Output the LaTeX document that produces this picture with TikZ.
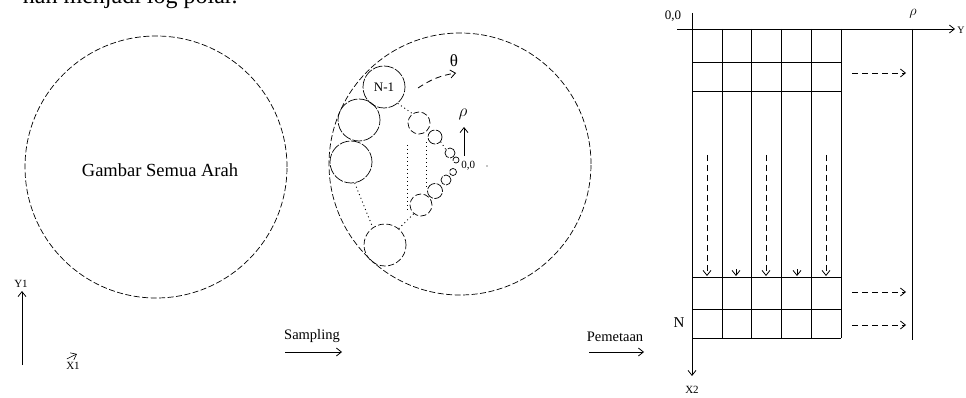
\documentclass[tikz,border=0pt]{standalone}
\usepackage{fontspec}
\setmainfont{Liberation Serif}
\usetikzlibrary{arrows.meta}
\begin{document}
\begin{tikzpicture}[x=1pt,y=-1pt,line width=0.8pt,
  ar/.style={-{Straight Barb[length=5pt,width=8pt]}},
  dcirc/.style={circle,draw,dash pattern=on 6pt off 2.5pt,line width=0.7pt,inner sep=0pt},
  scirc/.style={circle,draw,dash pattern=on 10pt off 1.5pt,line width=0.7pt,inner sep=0pt},
  dot/.style={dash pattern=on 1pt off 3pt,line width=0.9pt},
  dsh/.style={dash pattern=on 6pt off 4pt,line width=0.8pt},
  lbl/.style={inner sep=0pt,font=\fontsize{11}{12}\selectfont},
  mid/.style={inner sep=0pt,font=\fontsize{14.5}{16}\selectfont}]
\useasboundingbox (0,0) rectangle (966,398);
% top text (cut off by the page edge, as in the reference)
\node[anchor=base east,inner sep=0pt,font=\fontsize{24}{28}\selectfont] (top) at (238,4) {nah menjadi log polar.};
% left circle
\node[dcirc,minimum size=262pt] (c1) at (156,167) {};
\node[inner sep=0pt,font=\fontsize{18.5}{20}\selectfont] (c1t) at (160,170) {Gambar Semua Arah};
% Y1 / X1
\node[lbl] (y1) at (21,284) {Y1};
\coordinate (y1s) at (22,365);
\draw[ar] (y1s) -- (22,291);
\node[lbl] (x1) at (73,366) {X1};
\draw[ar,line width=0.6pt] (x1.north west) ++(1,-3) coordinate (x1a) -- ++(10,-5) coordinate (x1b);
% Sampling
\node[mid] (samp) at (312,336) {Sampling};
\coordinate (sa) at (285,352);
\coordinate (sb) at (342,352);
\draw[ar] (sa) -- (sb);
% Pemetaan
\node[mid] (pem) at (615,337) {Pemetaan};
\coordinate (pa) at (589,352);
\coordinate (pb) at (644,352);
\draw[ar] (pa) -- (pb);
% middle circle
\node[dcirc,minimum size=262pt] (c2) at (460,164) {};
\node[scirc,minimum size=42pt,font=\fontsize{13}{14}\selectfont] (n1) at (384,87) {N-1};
\node[scirc,minimum size=42pt] (s2) at (359,120) {};
\node[scirc,minimum size=42pt] (s3) at (351,162) {};
\node[dcirc,minimum size=42pt] (s4) at (385,245) {};
\node[dcirc,minimum size=22pt] (u1) at (419,123) {};
\node[scirc,minimum size=14pt] (u2) at (435,137) {};
\node[scirc,minimum size=10pt] (u3) at (450,153) {};
\node[scirc,minimum size=6pt] (u4) at (456,160) {};
\node[dcirc,minimum size=22pt] (l1) at (421,205) {};
\node[scirc,minimum size=15pt] (l2) at (435,191) {};
\node[scirc,minimum size=10pt] (l3) at (446,180) {};
\node[scirc,minimum size=7pt] (l4) at (453,172) {};
\coordinate (o) at (460,165);
\node[anchor=west,inner sep=0pt,font=\fontsize{11}{12}\selectfont] (ot) at (461,166) {0,0};
\node[circle,fill,inner sep=0.5pt] (od) at (487,166) {};
% rho and theta
\coordinate (rs) at (464,156);
\node[inner sep=0pt,font=\fontsize{19}{20}\selectfont] (rho) at (463,114) {$\rho$};
\draw[ar] (rs) -- (464,127);
\coordinate (ts) at (418,88);
\coordinate (te) at (456,73);
\draw[ar,dsh] (ts) to[bend left=12] (te);
\node[inner sep=0pt,font=\fontsize{17}{18}\selectfont] (th) at (454,61) {θ};
% dotted connections
\draw[dot] (n1.-50) -- (u1.125);
\draw[dot] (u2.-40) -- (u3.140);
\draw[dot] (s3.-80) -- (s4.125);
\draw[dot] (s4.50) -- (l1.-130);
\coordinate (v1a) at (407,145); \coordinate (v1b) at (407,212);
\coordinate (v2a) at (426,142); \coordinate (v2b) at (426,190);
\draw[dot] (v1a) -- (v1b);
\draw[dot] (v2a) -- (v2b);
% grid
\foreach \yy in {29,62,91,277,309,338} \draw (692,\yy) -- (841,\yy);
\foreach \xx in {722,751,781,811,841} \draw (\xx,29) -- (\xx,338);
\coordinate (ha) at (677,29); \coordinate (hb) at (955,29);
\draw[ar] (ha) -- (hb);
\coordinate (va) at (692,13); \coordinate (vb) at (692,376);
\draw[ar] (va) -- (vb);
\node[anchor=west,inner sep=0pt,font=\fontsize{10}{12}\selectfont] (yl) at (957,30) {Y};
\node[anchor=north,inner sep=0pt,font=\fontsize{11}{12}\selectfont] (x2) at (692,386) {X2};
\node[inner sep=0pt,font=\fontsize{13}{14}\selectfont] (g00) at (673,16) {0,0};
\node[inner sep=0pt,font=\fontsize{15}{16}\selectfont] (gN) at (679,323) {N};
\coordinate (ra) at (912,29); \coordinate (rb) at (912,340);
\draw (ra) -- (rb);
\node[inner sep=0pt,font=\fontsize{15}{16}\selectfont] (rho2) at (913,14) {$\rho$};
% dashed arrows right
\foreach \yy in {73,292,325} \draw[ar,dsh] (852,\yy) -- (906,\yy);
% dashed arrows down
\foreach \xx in {707,766,826} \draw[ar,dsh] (\xx,155) -- (\xx,276);
\foreach \xx in {736,797} \draw[ar] (\xx,269) -- (\xx,276);
\end{tikzpicture}
\end{document}
